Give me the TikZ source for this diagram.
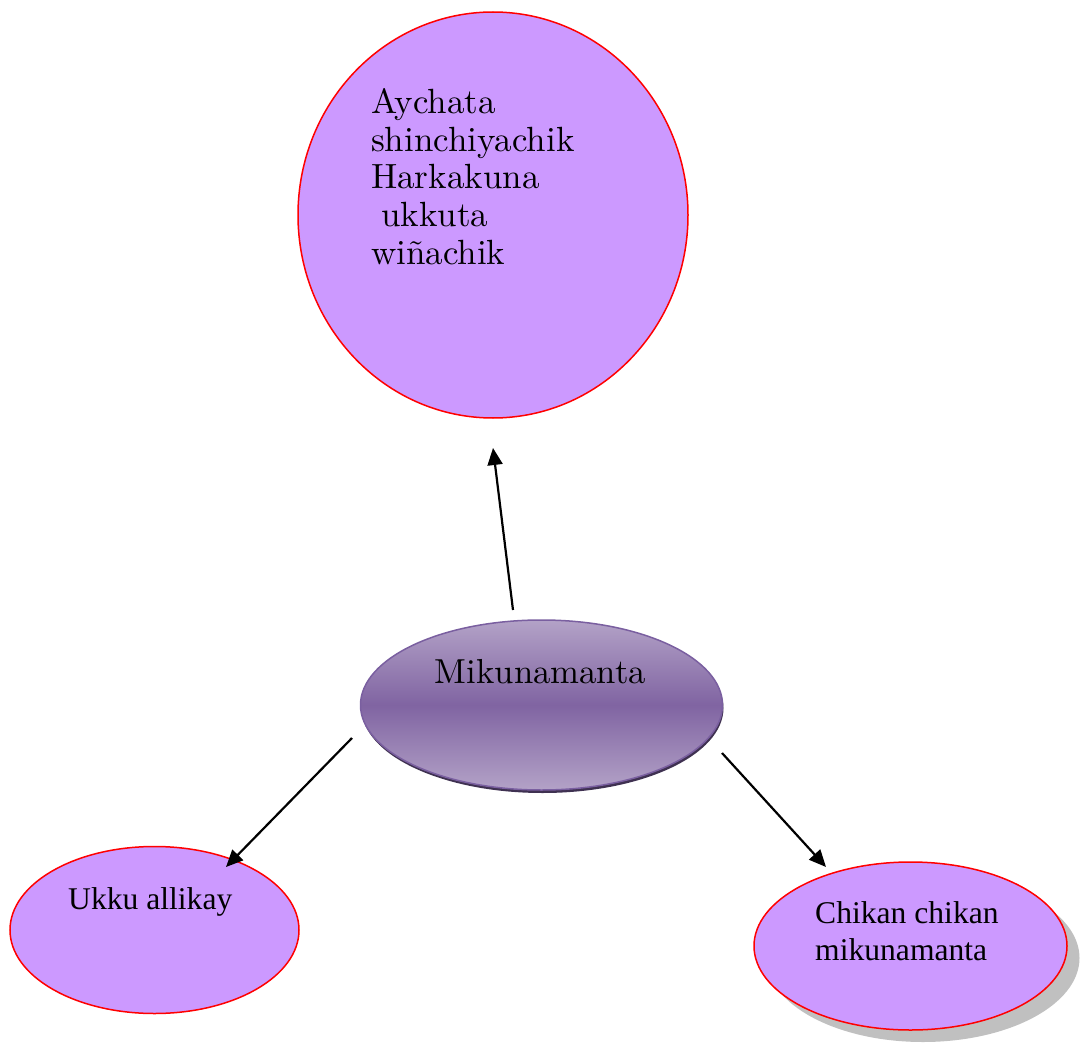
\documentclass[tikz,border=0pt]{standalone}
\usepackage{fontspec}
\newfontfamily\tnr{Liberation Serif}
\newfontfamily\lmten{lmroman10-regular.otf}
\usetikzlibrary{shapes.geometric,arrows.meta}
\definecolor{lilac}{HTML}{CC99FF}
\definecolor{plight}{HTML}{B3A2C7}
\definecolor{pmid}{HTML}{8064A2}
\definecolor{pedge}{HTML}{7A5FA0}
\definecolor{pdark}{HTML}{3F3151}
\definecolor{shadowgray}{HTML}{C0C0C0}
\tikzset{
  bubble/.style={ellipse, draw=red, line width=1.5pt, fill=lilac, inner sep=0pt},
  conn/.style={line width=2.2pt, -{Triangle[length=17pt,width=15pt]}},
  lbl/.style={inner sep=0pt, text=black}
}
\begin{document}
\begin{tikzpicture}[x=1pt,y=-1pt]
\useasboundingbox (0,0) rectangle (1084,1043);
% top circle
\node[bubble, minimum width=390pt, minimum height=406pt] (top) at (493,215) {};
\node[lbl, anchor=north west, align=left, font=\lmten\fontsize{35}{37.8}\selectfont] (toptext) at (371,88)
  {Aychata\\shinchiyachik\\Harkakuna\\\hspace*{10pt}ukkuta\\wiñachik};
% center ellipse
\node[ellipse, fill=pdark, minimum width=362pt, minimum height=170pt, inner sep=0pt] (midsh) at (542.5,708) {};
\node[ellipse, draw=pedge, line width=1.5pt, minimum width=362pt, minimum height=170pt, inner sep=0pt,
  top color=plight, bottom color=plight, middle color=pmid, shading angle=0] (mid) at (541.5,705) {};
\node[lbl, anchor=base, font=\lmten\fontsize{34.7}{40}\selectfont] (midtext) at (540.5,683) {Mikunamanta};
% bottom left
\node[bubble, minimum width=289pt, minimum height=167pt] (left) at (154.5,930) {};
\node[lbl, anchor=base west, font=\tnr\fontsize{31.6}{37}\selectfont] (lefttext) at (68,909) {Ukku allikay};
% bottom right
\node[ellipse, fill=shadowgray, minimum width=313pt, minimum height=168pt, inner sep=0pt] (rightsh) at (923,958) {};
\node[bubble, minimum width=313pt, minimum height=168pt] (right) at (910.5,946) {};
\node[lbl, anchor=base west, font=\tnr\fontsize{31.6}{37}\selectfont] (righttext1) at (815,923) {Chikan chikan};
\node[lbl, anchor=base west, font=\tnr\fontsize{31.6}{37}\selectfont] (righttext2) at (815,960) {mikunamanta};
% connectors
\coordinate (a1s) at (513,610);
\coordinate (a1e) at (493,448);
\coordinate (a2s) at (352,738);
\coordinate (a2e) at (226,867);
\coordinate (a3s) at (722,753);
\coordinate (a3e) at (826,867);
\draw[conn] (a1s) -- (a1e);
\draw[conn] (a2s) -- (a2e);
\draw[conn] (a3s) -- (a3e);
\end{tikzpicture}
\end{document}
